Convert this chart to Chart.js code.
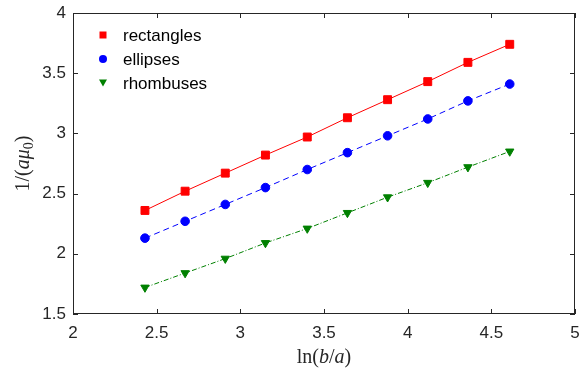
<!DOCTYPE html>
<html>
<head>
<meta charset="utf-8">
<script src="https://cdn.jsdelivr.net/npm/chart.js@4/dist/chart.umd.min.js"></script>
<style>
  html, body { margin: 0; padding: 0; background: #fff; }
</style>
</head>
<body>
<canvas id="chart" width="587" height="373"></canvas>
<script>
// x values: ln(b/a)
const lnRatio = [2.43, 2.67, 2.91, 3.15, 3.40, 3.64, 3.88, 4.12, 4.36, 4.61];
// y values: 1/(a mu0)
const rectangles = [2.36, 2.52, 2.67, 2.82, 2.97, 3.13, 3.28, 3.43, 3.59, 3.74];
const ellipses   = [2.13, 2.27, 2.41, 2.55, 2.70, 2.84, 2.98, 3.12, 3.27, 3.41];
const rhombuses  = [1.72, 1.84, 1.96, 2.09, 2.21, 2.34, 2.47, 2.59, 2.72, 2.85];

const xTickLabels = ['2', '2.5', '3', '3.5', '4', '4.5', '5'];
const yTickLabels = ['1.5', '2', '2.5', '3', '3.5', '4'];

const axisColor = '#262626';
const tickFont = { family: 'Liberation Sans', size: 17 };

function toPoints(ys) {
    return ys.map((y, i) => ({ x: lnRatio[i], y: y }));
}

// draw marker shape for legend
function drawMarker(ctx, style, x, y, color) {
    ctx.save();
    ctx.fillStyle = color;
    ctx.beginPath();
    if (style === 'rect') {
        ctx.rect(x - 3.5, y - 3.5, 7, 7);
    } else if (style === 'circle') {
        ctx.arc(x, y, 4, 0, Math.PI * 2);
    } else {
        ctx.moveTo(x - 4, y - 3.5);
        ctx.lineTo(x + 4, y - 3.5);
        ctx.lineTo(x, y + 3.5);
        ctx.closePath();
    }
    ctx.fill();
    ctx.restore();
}

// box, inward ticks, axis titles and legend
const decorPlugin = {
    id: 'decor',
    afterDraw(chart) {
        const ctx = chart.ctx;
        const a = chart.chartArea;
        const xs = chart.scales.x;
        const ys = chart.scales.y;
        ctx.save();
        ctx.strokeStyle = axisColor;
        ctx.lineWidth = 1;
        ctx.strokeRect(a.left + 0.5, a.top + 0.5, a.right - a.left - 1, a.bottom - a.top - 1);

        ctx.beginPath();
        xs.ticks.forEach(t => {
            const px = Math.round(xs.getPixelForValue(t.value)) + 0.5;
            ctx.moveTo(px, a.bottom); ctx.lineTo(px, a.bottom - 5);
            ctx.moveTo(px, a.top); ctx.lineTo(px, a.top + 5);
        });
        ys.ticks.forEach(t => {
            const py = Math.round(ys.getPixelForValue(t.value)) + 0.5;
            ctx.moveTo(a.left, py); ctx.lineTo(a.left + 5, py);
            ctx.moveTo(a.right, py); ctx.lineTo(a.right - 5, py);
        });
        ctx.stroke();

        // axis titles with math italics
        ctx.fillStyle = axisColor;
        ctx.textBaseline = 'alphabetic';
        const up = '20px "Liberation Serif"';
        const it = 'italic 20px "Liberation Serif"';
        const sub = '14px "Liberation Serif"';

        function drawParts(parts, cx, cy) {
            let w = 0;
            parts.forEach(p => { ctx.font = p[1]; w += ctx.measureText(p[0]).width; });
            let x = cx - w / 2;
            parts.forEach(p => {
                ctx.font = p[1];
                ctx.fillText(p[0], x, cy + (p[2] || 0));
                x += ctx.measureText(p[0]).width;
            });
        }

        drawParts([['ln(', up], ['b', it], ['/', up], ['a', it], [')', up]],
            (a.left + a.right) / 2, 363);

        ctx.save();
        ctx.translate(29, (a.top + a.bottom) / 2);
        ctx.rotate(-Math.PI / 2);
        drawParts([['1/(', up], ['a', it], ['\u03BC', it], ['0', sub, 4], [')', up]], 0, 0);
        ctx.restore();

        // legend
        ctx.font = '17px "Liberation Sans"';
        ctx.textBaseline = 'middle';
        chart.data.datasets.forEach((ds, i) => {
            const y = 35 + i * 24;
            drawMarker(ctx, ds.legendStyle, 103, y, ds.borderColor);
            ctx.fillStyle = '#000';
            ctx.fillText(ds.label, 123, y + 1);
        });
        ctx.restore();
    }
};

new Chart(document.getElementById('chart'), {
    type: 'line',
    data: {
        datasets: [
            {
                label: 'rectangles',
                data: toPoints(rectangles),
                borderColor: '#ff0000',
                backgroundColor: '#ff0000',
                borderWidth: 1,
                pointStyle: 'rect',
                pointRadius: 5.6,
                legendStyle: 'rect'
            },
            {
                label: 'ellipses',
                data: toPoints(ellipses),
                borderColor: '#0000ff',
                backgroundColor: '#0000ff',
                borderWidth: 1,
                borderDash: [6, 4],
                pointStyle: 'circle',
                pointRadius: 4.3,
                legendStyle: 'circle'
            },
            {
                label: 'rhombuses',
                data: toPoints(rhombuses),
                borderColor: '#008000',
                backgroundColor: '#008000',
                borderWidth: 1,
                borderDash: [5, 2, 1, 2],
                pointStyle: 'triangle',
                pointRotation: 180,
                pointRadius: 4.8,
                legendStyle: 'triangle'
            }
        ]
    },
    options: {
        responsive: false,
        animation: false,
        layout: { padding: { top: 13, right: 12, left: 0, bottom: 0 } },
        elements: {
            line: { tension: 0 },
            point: { borderWidth: 0 }
        },
        plugins: {
            legend: { display: false },
            tooltip: { enabled: false }
        },
        scales: {
            x: {
                type: 'linear',
                min: 2,
                max: 5,
                grid: { display: false, drawTicks: false },
                border: { display: false },
                ticks: {
                    stepSize: 0.5,
                    padding: 9,
                    color: axisColor,
                    font: tickFont,
                    maxRotation: 0,
                    callback: (v) => xTickLabels[Math.round((v - 2) / 0.5)]
                },
                afterFit(scale) {
                    scale.height = 59;
                    scale.paddingLeft = 0;
                    scale.paddingRight = 0;
                }
            },
            y: {
                type: 'linear',
                min: 1.5,
                max: 4,
                grid: { display: false, drawTicks: false },
                border: { display: false },
                ticks: {
                    stepSize: 0.5,
                    padding: 7,
                    color: axisColor,
                    font: tickFont,
                    callback: (v) => yTickLabels[Math.round((v - 1.5) / 0.5)]
                },
                afterFit(scale) {
                    scale.width = 73;
                    scale.paddingTop = 0;
                    scale.paddingBottom = 0;
                }
            }
        }
    },
    plugins: [decorPlugin]
});
</script>
</body>
</html>
